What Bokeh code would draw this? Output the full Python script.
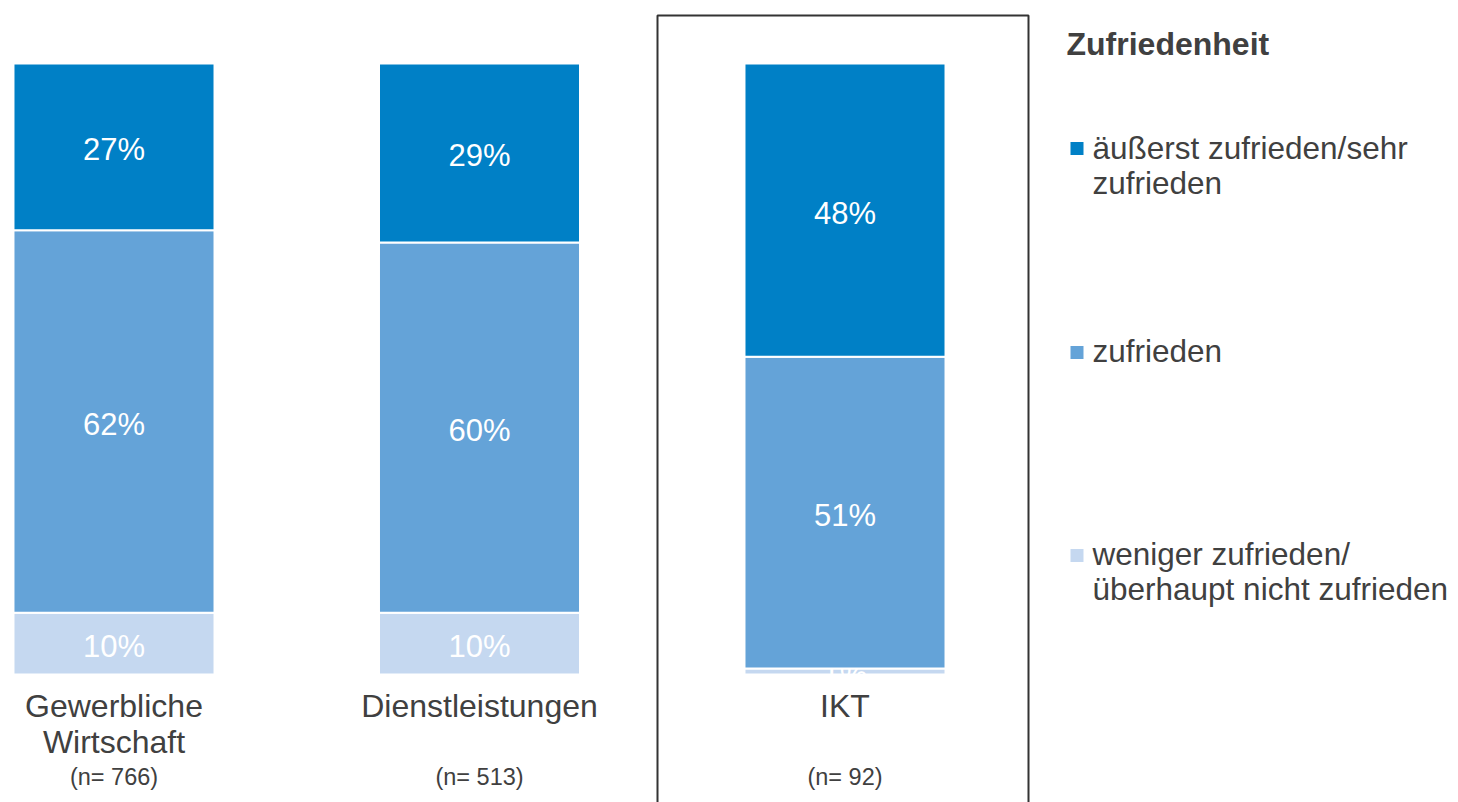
from bokeh.plotting import figure
from bokeh.models import ColumnDataSource, Range1d
from bokeh.core.properties import value
from bokeh.embed import file_html
from bokeh.resources import INLINE

# ---------------- data ----------------
categories = ["Gewerbliche Wirtschaft", "Dienstleistungen", "IKT"]
category_lines = [["Gewerbliche", "Wirtschaft"], ["Dienstleistungen"], ["IKT"]]
sample_sizes = ["(n= 766)", "(n= 513)", "(n= 92)"]
series_names = ["äußerst zufrieden/sehr zufrieden", "zufrieden",
                "weniger zufrieden/ überhaupt nicht zufrieden"]
legend_lines = [["äußerst zufrieden/sehr", "zufrieden"], ["zufrieden"],
                ["weniger zufrieden/", "überhaupt nicht zufrieden"]]
high = [27, 29, 48]   # äußerst zufrieden/sehr zufrieden
mid = [62, 60, 51]    # zufrieden
low = [10, 10, 1]     # weniger zufrieden/überhaupt nicht zufrieden
legend_title = "Zufriedenheit"

colors = ["#0080C6", "#64A3D8", "#C5D8F0"]
FONT = "Liberation Sans"
TXT = "#404040"

W, H = 1458, 802

# pixel -> data helpers for annotation placement
SX = 365.5
SY = 6.11
def dx(X):
    return (X - 113.5) / SX
def dy(Y):
    return (674 - Y) / SY

p = figure(width=W, height=H, output_backend="svg", toolbar_location=None,
           x_range=Range1d(dx(0), dx(W)), y_range=Range1d(dy(H), dy(0)),
           min_border=0, outline_line_color=None, background_fill_color="white",
           border_fill_color="white")
p.axis.visible = False
p.xgrid.visible = False
p.ygrid.visible = False

# stacked bars, each normalised to 100 %
xs = list(range(len(categories)))
tot = [a + b + c for a, b, c in zip(low, mid, high)]
lo_n = [100 * a / t for a, t in zip(low, tot)]
mi_n = [100 * b / t for b, t in zip(mid, tot)]
hi_n = [100 * c / t for c, t in zip(high, tot)]

segs = [
    (lo_n, [0] * 3, low, colors[2]),
    (mi_n, lo_n, mid, colors[1]),
    (hi_n, [a + b for a, b in zip(lo_n, mi_n)], high, colors[0]),
]
for vals, bottoms, labels, col in segs:
    tops = [b + v for b, v in zip(bottoms, vals)]
    src = ColumnDataSource(dict(x=xs, bottom=bottoms, top=tops,
                                mid=[(b + t) / 2 for b, t in zip(bottoms, tops)],
                                lab=[f"{v}%" for v in labels]))
    p.vbar(x="x", bottom="bottom", top="top", width=0.55, source=src,
           fill_color=col, line_color="white", line_width=2)
    p.text(x="x", y="mid", text="lab", source=src, text_color="white",
           text_font=value(FONT), text_font_size="31px", y_offset=3,
           text_align="center", text_baseline="middle")

# category labels
for i, lines in enumerate(category_lines):
    for j, line in enumerate(lines):
        p.text(x=[i], y=[dy(705 + 36 * j)], text=[line], text_color=TXT,
               text_font=value(FONT), text_font_size="32px",
               text_align="center", text_baseline="alphabetic")
    p.text(x=[i], y=[dy(776)], text=[sample_sizes[i]], text_color=TXT,
           text_font=value(FONT), text_font_size="23.5px",
           text_align="center", text_baseline="alphabetic")

# highlight box around IKT
p.line(x=[dx(657), dx(657), dx(1028), dx(1028)],
       y=[dy(830), dy(15), dy(15), dy(830)], line_color="#333333", line_width=2)

# legend
p.text(x=[dx(1066)], y=[dy(43)], text=[legend_title], text_color=TXT,
       text_font=value(FONT), text_font_size="32px", text_font_style="bold",
       text_align="left", text_baseline="alphabetic")
leg_sq_y = [148, 352, 555]
leg_base = [147, 350, 553]
for k, lines in enumerate(legend_lines):
    p.scatter(x=[dx(1076.5)], y=[dy(leg_sq_y[k])], marker="square", size=13,
              fill_color=colors[k], line_color=None)
    for j, line in enumerate(lines):
        p.text(x=[dx(1092)], y=[dy(leg_base[k] + 35.5 * j)], text=[line],
               text_color=TXT, text_font=value(FONT), text_font_size="31.5px",
               text_align="left", text_baseline="alphabetic")

open("out.html", "w").write(file_html(p, INLINE))
